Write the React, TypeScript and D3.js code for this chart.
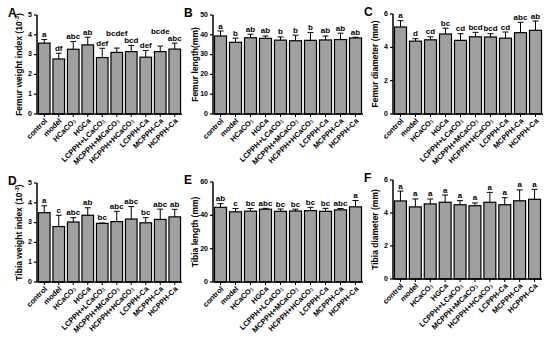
import React from "react";
import * as d3 from "d3";

// group names, sub = subscript 3 of CO3
const groups = [
  { name: "control", sub: false },
  { name: "model", sub: false },
  { name: "HCaCO", sub: true },
  { name: "HGCa", sub: false },
  { name: "LCPPH+LCaCO", sub: true },
  { name: "MCPPH+MCaCO", sub: true },
  { name: "HCPPH+HCaCO", sub: true },
  { name: "LCPPH-Ca", sub: false },
  { name: "MCPPH-Ca", sub: false },
  { name: "HCPPH-Ca", sub: false },
];

const femurWeight = [3.58, 2.78, 3.27, 3.49, 2.85, 3.11, 3.15, 2.87, 3.15, 3.28];
const femurWeightSd = [0.18, 0.29, 0.39, 0.39, 0.47, 0.22, 0.31, 0.34, 0.28, 0.3];
const femurWeightSig = ["a", "df", "abc", "ab", "def", "bcdef", "bcd", "def", "bcde", "abc"];

const femurLength = [39.4, 36.2, 38.5, 38.2, 37.3, 37.0, 37.2, 37.4, 37.6, 38.4];
const femurLengthSd = [2.5, 2.1, 1.8, 1.2, 1.6, 2.8, 4.0, 2.0, 3.2, 0.4];
const femurLengthSig = ["a", "b", "ab", "ab", "b", "b", "b", "ab", "ab", "ab"];

const femurDiam = [5.22, 4.37, 4.45, 4.8, 4.42, 4.63, 4.62, 4.55, 4.88, 5.02];
const femurDiamSd = [0.38, 0.15, 0.18, 0.35, 0.4, 0.27, 0.2, 0.37, 0.62, 0.56];
const femurDiamSig = ["a", "d", "cd", "bc", "cd", "bcd", "bcd", "cd", "abc", "ab"];

const tibiaWeight = [3.5, 2.8, 3.03, 3.37, 2.96, 3.05, 3.18, 2.99, 3.16, 3.29];
const tibiaWeightSd = [0.35, 0.57, 0.22, 0.38, 0.02, 0.52, 0.63, 0.26, 0.52, 0.38];
const tibiaWeightSig = ["a", "c", "abc", "ab", "bc", "abc", "abc", "bc", "abc", "ab"];

const tibiaLength = [44.8, 42.1, 42.5, 43.7, 42.4, 42.6, 42.8, 42.4, 43.3, 45.1];
const tibiaLengthSd = [2.2, 2.0, 1.6, 0.5, 1.4, 1.1, 2.0, 1.8, 0.8, 3.8];
const tibiaLengthSig = ["ab", "c", "bc", "abc", "bc", "bc", "bc", "bc", "abc", "a"];

const tibiaDiam = [4.73, 4.37, 4.55, 4.65, 4.5, 4.44, 4.65, 4.5, 4.74, 4.83];
const tibiaDiamSd = [0.6, 0.48, 0.3, 0.44, 0.25, 0.17, 0.6, 0.43, 0.66, 0.6];
const tibiaDiamSig = ["a", "a", "a", "a", "a", "a", "a", "a", "a", "a"];

const FONT = "'Liberation Sans', Arial, sans-serif";

type PanelProps = {
  letter: string;
  label: string;
  sup?: boolean;
  x0: number;
  x1: number;
  y0: number;
  y1: number;
  max: number;
  ticks: number[];
  values: number[];
  sd: number[];
  sig: string[];
};

// stack significance letters upward when they would collide with a neighbour
function placeLetters(cx: number[], tops: number[], sig: string[]) {
  const base = tops.map((t) => t - 2.5);
  const order = d3.range(sig.length).sort((a, b) => tops[a] - tops[b]);
  const placed: number[] = [];
  const w = (s: string) => s.length * 4.5 + 1;
  for (const i of order) {
    let y = base[i];
    let moved = true;
    while (moved) {
      moved = false;
      for (const j of placed) {
        const hx = Math.abs(cx[i] - cx[j]) < (w(sig[i]) + w(sig[j])) / 2;
        const vy = Math.abs(y - base[j]) < 6.5;
        if (hx && vy) {
          y = base[j] - 6.5;
          moved = true;
        }
      }
    }
    base[i] = y;
    placed.push(i);
  }
  return base;
}

const Panel = (p: PanelProps) => {
  const x = d3
    .scaleBand()
    .domain(groups.map((g) => g.name))
    .range([p.x0, p.x1])
    .paddingInner(0.2)
    .paddingOuter(0.1);
  const y = d3.scaleLinear().domain([0, p.max]).range([p.y1, p.y0]);
  const bw = x.bandwidth();
  const cxs = groups.map((g) => (x(g.name) as number) + bw / 2);
  const tops = p.values.map((v, i) => y(v + p.sd[i]));
  const sigY = placeLetters(cxs, tops, p.sig);

  return (
    <g fontFamily={FONT} fontWeight="bold">
      <text x={p.x0 - 29} y={p.y0 + 2} fontSize={12}>
        {p.letter}
      </text>
      {groups.map((g, i) => {
        const cx = cxs[i];
        const top = tops[i];
        return (
          <g key={g.name}>
            <line x1={cx} x2={cx} y1={y(p.values[i])} y2={top} stroke="#000" strokeWidth={1} />
            <line x1={cx - bw / 4} x2={cx + bw / 4} y1={top} y2={top} stroke="#000" strokeWidth={1} />
            <rect
              x={x(g.name)}
              y={y(p.values[i])}
              width={bw}
              height={p.y1 - y(p.values[i])}
              fill="#a0a0a0"
              stroke="#000"
              strokeWidth={1.2}
            />
            <text x={cx} y={sigY[i]} fontSize={8} textAnchor="middle">
              {p.sig[i]}
            </text>
            <line x1={cx} x2={cx} y1={p.y1} y2={p.y1 + 3} stroke="#000" strokeWidth={1} />
            <text
              transform={`translate(${cx + 2},${p.y1 + 6}) rotate(-45)`}
              fontSize={7.5}
              textAnchor="end"
              dominantBaseline="middle"
            >
              {g.name}
              {g.sub && (
                <tspan fontSize={5.5} dy={1.5} fill="#666">
                  3
                </tspan>
              )}
            </text>
          </g>
        );
      })}
      <line x1={p.x0} x2={p.x1} y1={p.y1} y2={p.y1} stroke="#000" strokeWidth={1.5} />
      <line x1={p.x0} x2={p.x0} y1={p.y0} y2={p.y1} stroke="#000" strokeWidth={1.5} />
      {p.ticks.map((t) => (
        <g key={t}>
          <line x1={p.x0 - 3} x2={p.x0} y1={y(t)} y2={y(t)} stroke="#000" strokeWidth={1.2} />
          <text x={p.x0 - 5} y={y(t)} fontSize={7} textAnchor="end" dominantBaseline="middle">
            {t}
          </text>
        </g>
      ))}
      <text
        transform={`translate(${p.x0 - 17},${(p.y0 + p.y1) / 2}) rotate(-90)`}
        fontSize={8.5}
        textAnchor="middle"
        dominantBaseline="middle"
      >
        {p.label}
        {p.sup && (
          <>
            {"(10"}
            <tspan fontSize={6} dy={-3}>
              -3
            </tspan>
            <tspan dy={3}>)</tspan>
          </>
        )}
      </text>
    </g>
  );
};

export default function App() {
  return (
    <svg width={550} height={341} style={{ position: "absolute", left: 0, top: 0, background: "#fff" }}>
      <Panel letter="A" label="Femur weight index " sup x0={37} x1={182} y0={15} y1={114} max={5}
        ticks={[0, 1, 2, 3, 4, 5]} values={femurWeight} sd={femurWeightSd} sig={femurWeightSig} />
      <Panel letter="B" label="Femur length(mm)" x0={213} x1={363} y0={15} y1={114} max={50}
        ticks={[0, 10, 20, 30, 40, 50]} values={femurLength} sd={femurLengthSd} sig={femurLengthSig} />
      <Panel letter="C" label="Femur diameter (mm)" x0={393} x1={543} y0={14} y1={114} max={6}
        ticks={[0, 2, 4, 6]} values={femurDiam} sd={femurDiamSd} sig={femurDiamSig} />
      <Panel letter="D" label="Tibia weight index " sup x0={37} x1={182} y0={183} y1={282} max={5}
        ticks={[0, 1, 2, 3, 4, 5]} values={tibiaWeight} sd={tibiaWeightSd} sig={tibiaWeightSig} />
      <Panel letter="E" label="Tibia length (mm)" x0={213} x1={363} y0={182} y1={282} max={60}
        ticks={[0, 20, 40, 60]} values={tibiaLength} sd={tibiaLengthSd} sig={tibiaLengthSig} />
      <Panel letter="F" label="Tibia diameter (mm)" x0={393} x1={542} y0={180} y1={279} max={6}
        ticks={[0, 2, 4, 6]} values={tibiaDiam} sd={tibiaDiamSd} sig={tibiaDiamSig} />
    </svg>
  );
}
